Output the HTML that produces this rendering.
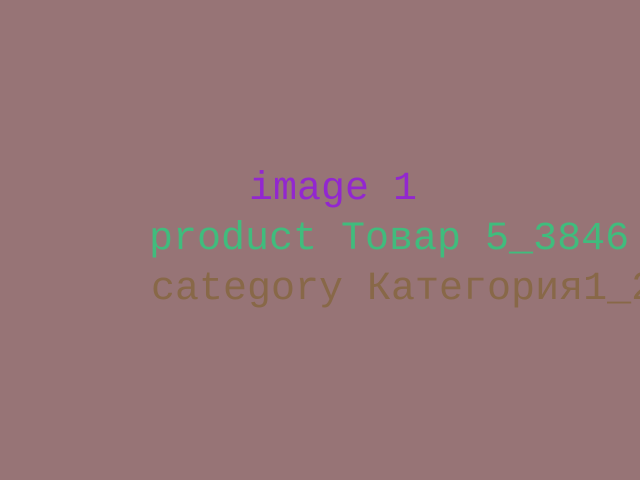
<!DOCTYPE html>
<html><head><meta charset="utf-8"><style>
html,body{margin:0;padding:0;}
body{width:640px;height:480px;background:#977476;position:relative;overflow:hidden;font-family:"Courier New","Courier","Nimbus Mono PS","Liberation Mono",monospace;font-size:40px;}
div{position:absolute;white-space:pre;line-height:1;}
</style></head><body>
<div style="left:249px;top:170px;color:#9227cf;">image 1</div>
<div style="left:149px;top:220px;color:#40bc7d;">product Товар 5_3846</div>
<div style="left:151px;top:270px;color:#886848;">category Категория1_2</div>
</body></html>
